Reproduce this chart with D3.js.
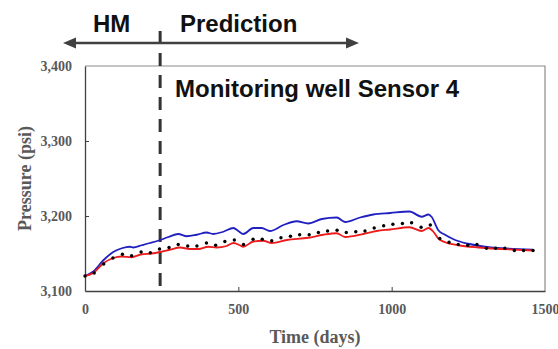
<!DOCTYPE html>
<html>
<head>
<meta charset="utf-8">
<script src="https://cdn.jsdelivr.net/npm/d3@7"></script>
<style>
  html, body { margin: 0; padding: 0; background: #fff; }
  svg { display: block; }
</style>
</head>
<body>
<div id="chart-container"></div>
<script>
// observed pressure (dots), roughly monthly
const obsDays = [0, 30, 61, 91, 122, 152, 183, 213, 243, 274, 304, 335, 365, 396, 426, 456, 487, 517, 548, 578,
  609, 639, 670, 700, 731, 761, 791, 822, 852, 883, 913, 943, 974, 1004, 1035, 1065, 1096, 1126, 1157, 1187,
  1217, 1248, 1278, 1309, 1339, 1369, 1400, 1430, 1461];
const obsPsi = [3120, 3124, 3136, 3144, 3149, 3147, 3152, 3151, 3156, 3158, 3162, 3160, 3160, 3164, 3161, 3166, 3168, 3162, 3169, 3169,
  3167, 3171, 3173, 3175, 3175, 3178, 3180, 3181, 3178, 3179, 3180, 3184, 3187, 3189, 3190, 3191, 3185, 3188, 3170, 3165,
  3162, 3161, 3162, 3157, 3157, 3157, 3154, 3154, 3154];

// blue simulated curve
const blueDays = [0, 27, 60, 92, 120, 147, 157, 185, 212, 245, 272, 304, 332, 364, 397, 418, 451, 484, 500, 516, 549,
  576, 603, 647, 690, 728, 772, 821, 848, 897, 940, 995, 1058, 1098, 1120, 1130, 1152, 1174, 1207, 1250, 1304, 1359, 1460];
const bluePsi = [3120, 3126, 3141, 3152, 3157, 3159, 3158, 3161, 3164, 3168, 3172, 3176, 3173, 3175, 3178, 3176, 3179, 3184, 3180, 3176, 3184,
  3184, 3180, 3188, 3193, 3190, 3196, 3198, 3192, 3198, 3202, 3204, 3206, 3199, 3202, 3199, 3181, 3175, 3168, 3163, 3159, 3157, 3155];

// red simulated curve
const redDays = [0, 27, 60, 92, 120, 152, 185, 217, 245, 277, 310, 342, 370, 402, 429, 462, 484, 505, 516, 549, 581,
  609, 658, 728, 777, 821, 848, 908, 951, 995, 1058, 1098, 1120, 1136, 1152, 1174, 1217, 1283, 1359, 1460];
const redPsi = [3120, 3124, 3137, 3144, 3146, 3145, 3149, 3150, 3152, 3155, 3158, 3156, 3156, 3159, 3158, 3160, 3164, 3161, 3159, 3166, 3167,
  3164, 3168, 3171, 3175, 3177, 3172, 3176, 3180, 3182, 3185, 3180, 3184, 3179, 3170, 3165, 3161, 3158, 3156, 3154];

const xTicks = [0, 500, 1000, 1500];
const yTicks = [3100, 3200, 3300, 3400];
const hmEnd = 245;

const W = 558, H = 349;
const plot = { left: 85, right: 545, top: 66, bottom: 291 };

const svg = d3.select("#chart-container").append("svg")
  .attr("width", W).attr("height", H);

const x = d3.scaleLinear().domain([0, 1500]).range([plot.left, plot.right]);
const y = d3.scaleLinear().domain([3100, 3400]).range([plot.bottom, plot.top]);

const serif = "'Liberation Serif', 'Times New Roman', serif";
const sans = "'Liberation Sans', Arial, sans-serif";
const gray = "#595959";

// frame
svg.append("path")
  .attr("d", `M${plot.left},${plot.top}H${plot.right}V${plot.bottom}`)
  .attr("fill", "none").attr("stroke", "#8c8c8c").attr("stroke-width", 1.2);

const xAxis = svg.append("g")
  .attr("transform", `translate(0,${plot.bottom})`)
  .call(d3.axisBottom(x).tickValues(xTicks).tickFormat(d3.format("d")).tickSizeInner(-4).tickSizeOuter(0).tickPadding(13));
const yAxis = svg.append("g")
  .attr("transform", `translate(${plot.left},0)`)
  .call(d3.axisLeft(y).tickValues(yTicks).tickFormat(d3.format(",")).tickSizeInner(-4).tickSizeOuter(0).tickPadding(13));

[xAxis, yAxis].forEach(ax => {
  ax.select(".domain").attr("stroke", "#404040").attr("stroke-width", 1.3);
  ax.selectAll(".tick line").attr("stroke", "#404040");
  ax.selectAll("text")
    .attr("fill", gray)
    .style("font-family", serif)
    .style("font-weight", "bold")
    .style("font-size", "14px");
});
xAxis.selectAll(".tick line").filter(d => d === 0 || d === 1500).remove();
yAxis.selectAll(".tick line").filter(d => d === 3100 || d === 3400).remove();

// axis titles
svg.append("text")
  .attr("x", (plot.left + plot.right) / 2).attr("y", 343)
  .attr("text-anchor", "middle").attr("fill", gray)
  .style("font-family", serif).style("font-weight", "bold").style("font-size", "18px")
  .text("Time (days)");
svg.append("text")
  .attr("transform", `translate(31,${(plot.top + plot.bottom) / 2}) rotate(-90)`)
  .attr("text-anchor", "middle").attr("fill", gray)
  .style("font-family", serif).style("font-weight", "bold").style("font-size", "18px")
  .text("Pressure (psi)");

// HM / prediction divider
svg.append("line")
  .attr("x1", x(hmEnd)).attr("x2", x(hmEnd))
  .attr("y1", 31).attr("y2", 286)
  .attr("stroke", "#333").attr("stroke-width", 3)
  .attr("stroke-dasharray", "13,9");

// double arrow
const arrowY = 43, ax0 = 63, ax1 = 359, head = 13;
svg.append("line")
  .attr("x1", ax0 + head - 2).attr("x2", ax1 - head + 2)
  .attr("y1", arrowY).attr("y2", arrowY)
  .attr("stroke", "#404040").attr("stroke-width", 2.5);
svg.append("path")
  .attr("d", `M${ax0},${arrowY}L${ax0 + head},${arrowY - 5.5}L${ax0 + head},${arrowY + 5.5}Z`)
  .attr("fill", "#404040");
svg.append("path")
  .attr("d", `M${ax1},${arrowY}L${ax1 - head},${arrowY - 5.5}L${ax1 - head},${arrowY + 5.5}Z`)
  .attr("fill", "#404040");

const label = (tx, ty, s) => svg.append("text")
  .attr("x", tx).attr("y", ty).attr("fill", "#111")
  .style("font-family", sans).style("font-weight", "bold").style("font-size", "24px")
  .text(s);
label(93, 32, "HM");
label(180, 32, "Prediction");
label(175, 97, "Monitoring well Sensor 4");

// curves
const line = d3.line().x(d => x(d[0])).y(d => y(d[1])).curve(d3.curveMonotoneX);
svg.append("path")
  .datum(d3.zip(blueDays, bluePsi))
  .attr("fill", "none").attr("stroke", "#2020c0").attr("stroke-width", 1.8)
  .attr("d", line);
svg.append("path")
  .datum(d3.zip(redDays, redPsi))
  .attr("fill", "none").attr("stroke", "#ec1c1c").attr("stroke-width", 1.8)
  .attr("d", line);

svg.append("g").selectAll("circle")
  .data(d3.zip(obsDays, obsPsi))
  .join("circle")
  .attr("cx", d => x(d[0])).attr("cy", d => y(d[1]))
  .attr("r", 1.7).attr("fill", "#000");
</script>
</body>
</html>
